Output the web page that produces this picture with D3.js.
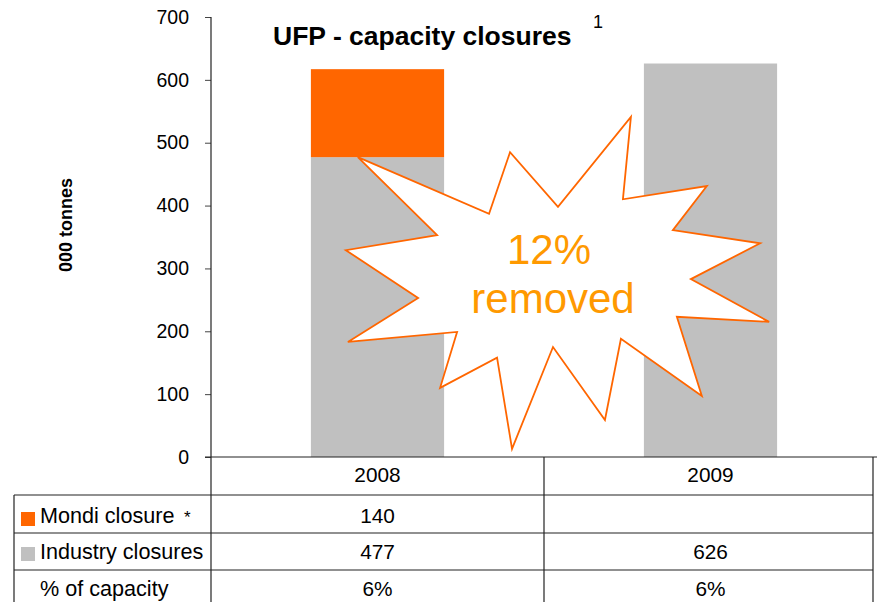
<!DOCTYPE html>
<html>
<head>
<meta charset="utf-8">
<script src="https://cdn.jsdelivr.net/npm/d3@7"></script>
<style>
  html, body { margin: 0; padding: 0; background: #fff; }
  svg { display: block; font-family: "Liberation Sans", Arial, sans-serif; }
</style>
</head>
<body>
<svg id="chart" width="881" height="602"></svg>
<script>
// ---- data ----
const categories = ["2008", "2009"];
const mondiClosure = [140, null];
const industryClosures = [477, 626];
const pctCapacity = ["6%", "6%"];
const yTicks = [0, 100, 200, 300, 400, 500, 600, 700];
const seriesNames = ["Mondi closure", "Industry closures", "% of capacity"];
// starburst annotation outline: x in category units (0..2), y in 000 tonnes
const burstX = [0.441, 0.835, 0.898, 1.042, 1.261, 1.237, 1.489, 1.387, 1.649, 1.441, 1.676, 1.399,
                1.474, 1.231, 1.183, 1.027, 0.904, 0.859, 0.688, 0.739, 0.411, 0.622, 0.405, 0.679];
const burstY = [477, 387, 485, 398, 541, 410, 431, 361, 340, 283, 215, 223,
                97, 188, 59, 175, 13, 158, 110, 199, 183, 253, 329, 353];
const burstText = ["12%", "removed"];

(function () {
// ---- layout ----
const svg = d3.select("#chart");
const mLeft = 211, mRight = 877, mTop = 17, mBottom = 457;
const tableRows = [457, 495, 533, 570, 602];
const colX = [14, 211, 544, 873];

const x = d3.scaleBand().domain(categories).range([mLeft, mRight]).padding(0);
const xPos = d3.scaleLinear().domain([0, 2]).range([mLeft, mRight]);
const y = d3.scaleLinear().domain([0, 700]).range([mBottom, mTop]);

const colors = { mondi: "#FF6600", industry: "#C0C0C0" };

// ---- bars ----
const rows = categories.map((c, i) => ({ cat: c, industry: industryClosures[i], mondi: mondiClosure[i] || 0 }));
const stack = d3.stack().keys(["industry", "mondi"])(rows);
const barW = x.bandwidth() * 0.4;
svg.append("g").selectAll("g").data(stack).join("g")
  .attr("fill", d => colors[d.key])
  .selectAll("rect").data(d => d).join("rect")
  .attr("x", d => x(d.data.cat) + (x.bandwidth() - barW) / 2)
  .attr("width", barW)
  .attr("y", d => y(d[1]))
  .attr("height", d => y(d[0]) - y(d[1]));

// ---- starburst ----
const pts = burstX.map((bx, i) => [xPos(bx), y(burstY[i])]);
svg.append("path")
  .attr("d", d3.line()(pts) + "Z")
  .attr("fill", "#fff")
  .attr("stroke", "#FF6600")
  .attr("stroke-width", 1.8)
  .attr("stroke-linejoin", "miter");
svg.append("text").text(burstText[0])
  .attr("x", 549).attr("y", 264)
  .attr("text-anchor", "middle").attr("font-size", 42).attr("fill", "#FF9900");
svg.append("text").text(burstText[1])
  .attr("x", 553).attr("y", 313)
  .attr("text-anchor", "middle").attr("font-size", 42).attr("fill", "#FF9900");

// ---- y axis ----
const yAxis = svg.append("g").attr("transform", `translate(${mLeft},0)`)
  .call(d3.axisLeft(y).tickValues(yTicks).tickSize(6).tickPadding(16).tickSizeOuter(0));
yAxis.select(".domain").remove();
yAxis.selectAll(".tick line").attr("stroke", "#444");
yAxis.selectAll(".tick text").attr("font-size", 19.5).attr("fill", "#000")
  .attr("font-family", "Liberation Sans, Arial, sans-serif");

svg.append("text").text("000 tonnes")
  .attr("transform", "translate(72,225) rotate(-90)")
  .attr("text-anchor", "middle").attr("font-size", 18).attr("font-weight", "bold");

// title
svg.append("text").text("UFP - capacity closures")
  .attr("x", 273).attr("y", 45).attr("font-size", 26.5).attr("font-weight", "bold");
svg.append("text").text("1").attr("x", 593).attr("y", 28).attr("font-size", 18);

// ---- table lines ----
const lines = svg.append("g").attr("stroke", "#222").attr("stroke-width", 1.2);
lines.append("line").attr("x1", mLeft).attr("x2", mLeft).attr("y1", mTop).attr("y2", 602);
lines.append("line").attr("x1", mLeft - 6).attr("x2", mRight).attr("y1", mBottom).attr("y2", mBottom);
[tableRows[1], tableRows[2], tableRows[3]].forEach(ry => {
  lines.append("line").attr("x1", colX[0]).attr("x2", colX[3]).attr("y1", ry).attr("y2", ry);
});
lines.append("line").attr("x1", colX[0]).attr("x2", colX[0]).attr("y1", tableRows[1]).attr("y2", 602);
lines.append("line").attr("x1", colX[2]).attr("x2", colX[2]).attr("y1", tableRows[0]).attr("y2", 602);
lines.append("line").attr("x1", colX[3]).attr("x2", colX[3]).attr("y1", tableRows[0]).attr("y2", 602);

// ---- table text ----
const tfs = 20.8, lfs = 21.6;
const baselines = [482, 523, 559, 596];
categories.forEach((c, i) => {
  const cx = x(c) + x.bandwidth() / 2;
  svg.append("text").text(c).attr("x", cx).attr("y", baselines[0]).attr("text-anchor", "middle").attr("font-size", tfs);
  if (mondiClosure[i] != null)
    svg.append("text").text(mondiClosure[i]).attr("x", cx).attr("y", baselines[1]).attr("text-anchor", "middle").attr("font-size", tfs);
  svg.append("text").text(industryClosures[i]).attr("x", cx).attr("y", baselines[2]).attr("text-anchor", "middle").attr("font-size", tfs);
  svg.append("text").text(pctCapacity[i]).attr("x", cx).attr("y", baselines[3]).attr("text-anchor", "middle").attr("font-size", tfs);
});

// row labels with legend keys
svg.append("rect").attr("x", 21).attr("y", 512).attr("width", 14).attr("height", 14).attr("fill", colors.mondi);
svg.append("rect").attr("x", 21).attr("y", 547).attr("width", 14).attr("height", 14).attr("fill", colors.industry);
svg.append("text").text(seriesNames[0]).attr("x", 40).attr("y", baselines[1]).attr("font-size", lfs);
svg.append("text").text("*").attr("x", 184).attr("y", 523).attr("font-size", 17);
svg.append("text").text(seriesNames[1]).attr("x", 40).attr("y", baselines[2]).attr("font-size", lfs);
svg.append("text").text(seriesNames[2]).attr("x", 40).attr("y", baselines[3]).attr("font-size", lfs);
})();
</script>
</body>
</html>
